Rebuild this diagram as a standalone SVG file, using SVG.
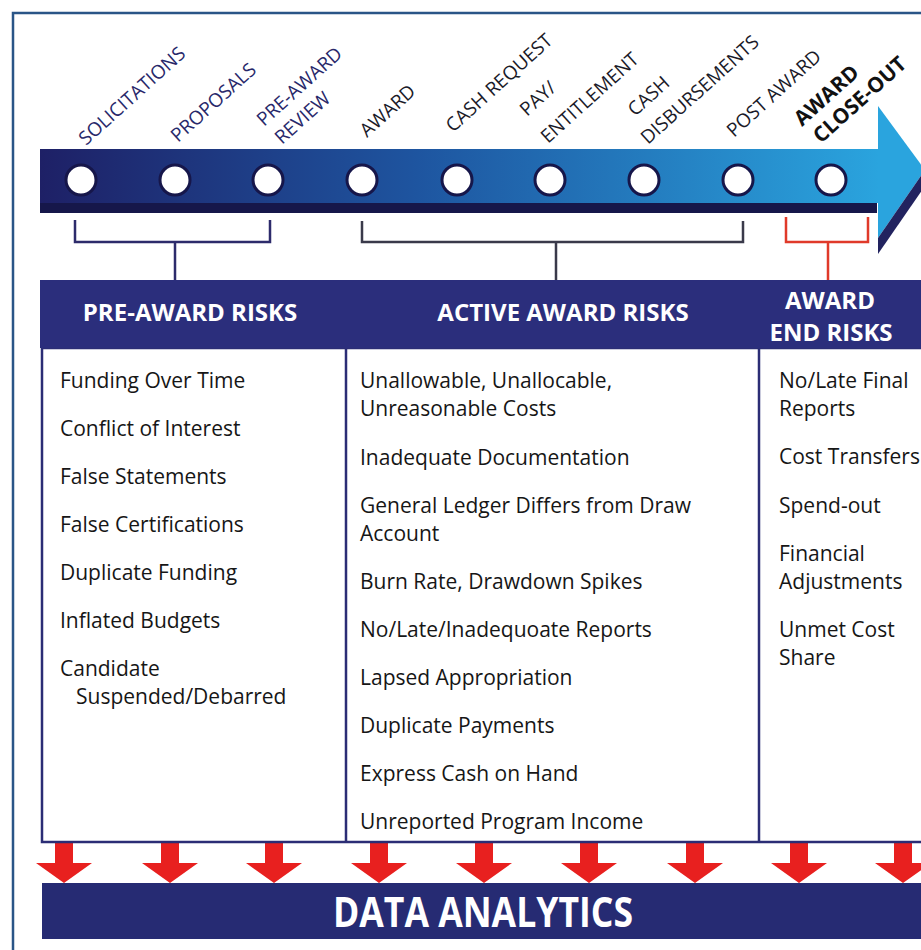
<svg xmlns="http://www.w3.org/2000/svg" width="921" height="950" viewBox="0 0 921 950">
<defs>
<linearGradient id="barGrad" x1="40" y1="0" x2="880" y2="0" gradientUnits="userSpaceOnUse">
<stop offset="0" stop-color="#1e2066"/>
<stop offset="0.45" stop-color="#1e55a0"/>
<stop offset="1" stop-color="#2aa4de"/>
</linearGradient>
<path id="redArrow" d="M-9,843 H9 V863 H28 L0,883 L-28,863 H-9 Z" fill="#e8201f"/>
<style>
.lbl{font-family:"Open Sans","Liberation Sans",sans-serif;font-size:19px;fill:#28286a}
.lbl2{font-family:"Open Sans","Liberation Sans",sans-serif;font-size:19px;fill:#1a1a28}
.lblb{font-family:"Open Sans","Liberation Sans",sans-serif;font-size:21px;font-weight:bold;fill:#111}
.hdr{font-family:"Open Sans","Liberation Sans",sans-serif;font-size:24px;font-weight:bold;fill:#fff;text-anchor:middle}
.item{font-family:"Open Sans","Liberation Sans",sans-serif;font-size:21px;fill:#161616}
.circ{fill:#fff;stroke:#16164a;stroke-width:3}
.brk{fill:none;stroke-width:2.5}
</style>
</defs>
<rect width="921" height="950" fill="#fff"/>
<path d="M13,950 V13 H921" fill="none" stroke="#2a5587" stroke-width="2.5"/>

<g id="timeline">
<rect x="40" y="149" width="840" height="54" fill="url(#barGrad)"/>
<polygon points="878,106 925,170 878,238" fill="#2aa4de"/>
<polygon points="878,238 925,170 925,186 878,254" fill="#22235f"/>
<rect x="40" y="203" width="837" height="10" fill="#16174a"/>
</g>

<g id="stage-solicitations">
<circle class="circ" cx="81" cy="180" r="15"/>
<text class="lbl" transform="translate(86,146) rotate(-42)">SOLICITATIONS</text>
</g>
<g id="stage-proposals">
<circle class="circ" cx="175" cy="180" r="15"/>
<text class="lbl" transform="translate(178,143) rotate(-42)">PROPOSALS</text>
</g>
<g id="stage-preaward">
<circle class="circ" cx="268" cy="180" r="15"/>
<text class="lbl" transform="translate(264,127) rotate(-42)">PRE-AWARD</text>
<text class="lbl" transform="translate(282,145) rotate(-42)">REVIEW</text>
</g>
<g id="stage-award">
<circle class="circ" cx="362" cy="180" r="15"/>
<text class="lbl2" transform="translate(367,138) rotate(-42)">AWARD</text>
</g>
<g id="stage-cashrequest">
<circle class="circ" cx="457" cy="180" r="15"/>
<text class="lbl2" transform="translate(453,133) rotate(-42)">CASH REQUEST</text>
</g>
<g id="stage-pay">
<circle class="circ" cx="550" cy="180" r="15"/>
<text class="lbl2" transform="translate(527,117) rotate(-42)">PAY/</text>
<text class="lbl2" transform="translate(548,144) rotate(-42)">ENTITLEMENT</text>
</g>
<g id="stage-cash">
<circle class="circ" cx="644" cy="180" r="15"/>
<text class="lbl2" transform="translate(635,117) rotate(-42)">CASH</text>
<text class="lbl2" transform="translate(648,145) rotate(-42)">DISBURSEMENTS</text>
</g>
<g id="stage-postaward">
<circle class="circ" cx="738" cy="180" r="15"/>
<text class="lbl2" transform="translate(734,138) rotate(-42)">POST AWARD</text>
</g>
<g id="stage-closeout">
<circle class="circ" cx="831" cy="180" r="15"/>
<text class="lblb" transform="translate(802,127) rotate(-42)">AWARD</text>
<text class="lblb" transform="translate(821,144) rotate(-42)">CLOSE-OUT</text>
</g>

<g id="connectors">
<path class="brk" stroke="#2d2b6b" d="M75,220 V242 H270 V220 M175,242 V281"/>
<path class="brk" stroke="#3a3a4a" d="M362,221 V242 H743 V221 M556,242 V281"/>
<path class="brk" stroke="#e03a2a" d="M786,217 V242 H868 V217 M828,242 V281"/>
<use href="#redArrow" x="64"/>
<use href="#redArrow" x="170"/>
<use href="#redArrow" x="274"/>
<use href="#redArrow" x="379"/>
<use href="#redArrow" x="484"/>
<use href="#redArrow" x="589"/>
<use href="#redArrow" x="695"/>
<use href="#redArrow" x="799"/>
<use href="#redArrow" x="903"/>
</g>

<g id="risk-table">
<rect x="42" y="348" width="885" height="494" fill="#fff" stroke="#2b2d75" stroke-width="2.5"/>
<line x1="346" y1="348" x2="346" y2="842" stroke="#2b2d75" stroke-width="2.5"/>
<line x1="759" y1="348" x2="759" y2="842" stroke="#2b2d75" stroke-width="2.5"/>
<rect x="40" y="280" width="890" height="68" fill="#2b2e7c"/>
</g>

<g id="pre-award-risks">
<text class="hdr" x="190" y="321">PRE-AWARD RISKS</text>
<text class="item" x="60" y="388">Funding Over Time</text>
<text class="item" x="60" y="436">Conflict of Interest</text>
<text class="item" x="60" y="484">False Statements</text>
<text class="item" x="60" y="532">False Certifications</text>
<text class="item" x="60" y="580">Duplicate Funding</text>
<text class="item" x="60" y="628">Inflated Budgets</text>
<text class="item" x="60" y="676">Candidate</text>
<text class="item" x="76" y="704">Suspended/Debarred</text>
</g>

<g id="active-award-risks">
<text class="hdr" x="563" y="321">ACTIVE AWARD RISKS</text>
<text class="item" x="360" y="388">Unallowable, Unallocable,</text>
<text class="item" x="360" y="416">Unreasonable Costs</text>
<text class="item" x="360" y="465">Inadequate Documentation</text>
<text class="item" x="360" y="513">General Ledger Differs from Draw</text>
<text class="item" x="360" y="541">Account</text>
<text class="item" x="360" y="589">Burn Rate, Drawdown Spikes</text>
<text class="item" x="360" y="637">No/Late/Inadequoate Reports</text>
<text class="item" x="360" y="685">Lapsed Appropriation</text>
<text class="item" x="360" y="733">Duplicate Payments</text>
<text class="item" x="360" y="781">Express Cash on Hand</text>
<text class="item" x="360" y="829">Unreported Program Income</text>
</g>

<g id="award-end-risks">
<text class="hdr" x="830" y="309">AWARD</text>
<text class="hdr" x="831" y="341">END RISKS</text>
<text class="item" x="779" y="388">No/Late Final</text>
<text class="item" x="779" y="416">Reports</text>
<text class="item" x="779" y="464">Cost Transfers</text>
<text class="item" x="779" y="513">Spend-out</text>
<text class="item" x="779" y="561">Financial</text>
<text class="item" x="779" y="589">Adjustments</text>
<text class="item" x="779" y="637">Unmet Cost</text>
<text class="item" x="779" y="665">Share</text>
</g>

<g id="data-analytics">
<rect x="42" y="883" width="879" height="56" fill="#262b73"/>
<text x="483" y="927" font-family="'Open Sans','Liberation Sans',sans-serif" font-size="42" font-weight="bold" fill="#fff" text-anchor="middle" textLength="300" lengthAdjust="spacingAndGlyphs">DATA ANALYTICS</text>
</g>
</svg>
